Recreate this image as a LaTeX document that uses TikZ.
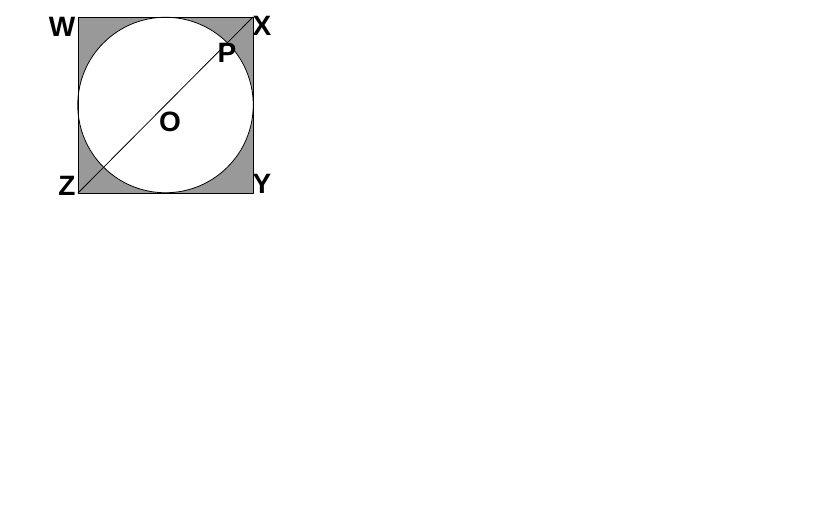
\documentclass[tikz,border=0pt]{standalone}
\usepackage{fontspec}
\setsansfont{Liberation Sans}
\usetikzlibrary{positioning}
\definecolor{shadegray}{RGB}{153,153,153}

\begin{document}
\begin{tikzpicture}[x=0.5pt, y=-0.5pt,
  every node/.style = {font=\sffamily\bfseries\fontsize{14}{16}\selectfont, inner sep=0pt},
  thinline/.style = {draw=black, line width=0.4pt}]
  \useasboundingbox (0,0) rectangle (840,525);
  \coordinate (w) at (78,17);
  \coordinate (x) at (253,17);
  \coordinate (y) at (253,193);
  \coordinate (z) at (78,193);
  \coordinate (o) at (165.5,105);
  \coordinate (p) at (227.5,43);
  % shaded corners
  \fill[shadegray] (w) rectangle (y);
  \fill[white] (o) circle (87.75);
  \draw[thinline] (w) -- (x) -- (y) -- (z) -- cycle;
  \draw[thinline] (o) circle (87.75);
  \draw[thinline] (z) -- (x);
  \node (lw) at (62,27) {W};
  \node (lx) at (262,26) {X};
  \node (ly) at (262,184) {Y};
  \node (lz) at (67,186) {Z};
  \node (lo) at (170,122) {O};
  \node (lp) at (227,53) {P};
\end{tikzpicture}
\end{document}
